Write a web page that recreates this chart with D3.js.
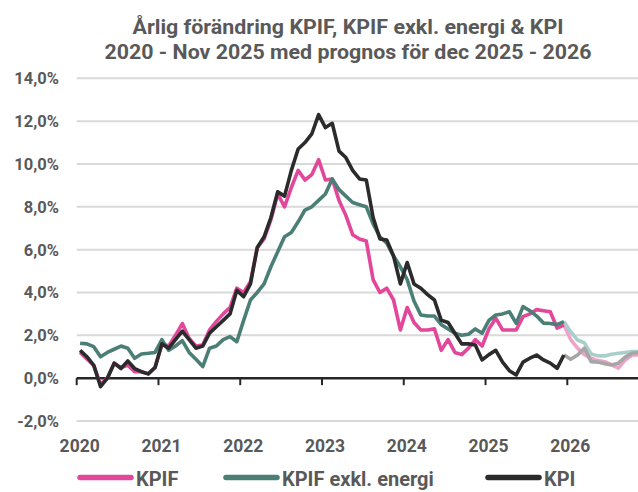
<!DOCTYPE html>
<html>
<head>
<meta charset="utf-8">
<script src="https://cdn.jsdelivr.net/npm/d3@7"></script>
<style>
  html, body { margin: 0; padding: 0; background: #fff; }
  text { font-family: Roboto, "Liberation Sans", sans-serif; font-weight: 700; fill: #595959; }
</style>
</head>
<body>
<div id="chart"></div>
<script>
// utfall jan 2020 - nov 2025
const kpif = [
  1.2, 0.9, 0.6, -0.3, 0.0, 0.7, 0.5, 0.6, 0.3, 0.3, 0.2, 0.5,
  1.6, 1.5, 2.0, 2.55, 1.85, 1.5, 1.55, 2.25, 2.65, 3.0, 3.3, 4.2,
  4.0, 4.5, 6.1, 6.5, 7.4, 8.6, 8.0, 8.9, 9.7, 9.25, 9.5, 10.2,
  9.25, 9.3, 8.3, 7.6, 6.7, 6.5, 6.4, 4.6, 4.0, 4.2, 3.65, 2.25,
  3.3, 2.6, 2.25, 2.25, 2.3, 1.3, 1.8, 1.2, 1.1, 1.4, 1.8, 1.5,
  2.3, 2.8, 2.25, 2.25, 2.25, 2.87, 3.0, 3.2, 3.15, 3.1, 2.34
]
const kpifExEnergi = [
  1.63, 1.6, 1.47, 1.0, 1.2, 1.35, 1.5, 1.4, 0.93, 1.13, 1.16, 1.2,
  1.8, 1.3, 1.5, 1.75, 1.2, 0.88, 0.54, 1.4, 1.5, 1.8, 1.94, 1.7,
  2.7, 3.65, 4.0, 4.4, 5.2, 5.9, 6.6, 6.8, 7.3, 7.85, 8.0, 8.3,
  8.6, 9.3, 8.8, 8.5, 8.2, 8.1, 8.0, 7.2, 6.6, 6.3, 5.7, 5.2,
  4.6, 3.6, 2.95, 2.9, 2.9, 2.5, 2.3, 2.1, 2.0, 2.05, 2.3, 2.1,
  2.7, 2.95, 3.0, 3.1, 2.56, 3.34, 3.15, 2.9, 2.57, 2.55, 2.5
]
const kpi = [
  1.3, 1.0, 0.6, -0.4, 0.0, 0.7, 0.45, 0.8, 0.45, 0.3, 0.2, 0.5,
  1.6, 1.4, 1.8, 2.2, 1.8, 1.4, 1.5, 2.1, 2.4, 2.7, 3.0, 4.1,
  3.8, 4.4, 6.1, 6.6, 7.5, 8.7, 8.5, 9.7, 10.7, 11.0, 11.4, 12.3,
  11.7, 11.9, 10.6, 10.3, 9.7, 9.3, 9.25, 7.5, 6.5, 6.45, 5.7, 4.4,
  5.4, 4.4, 4.2, 3.9, 3.65, 2.7, 2.6, 2.1, 1.6, 1.6, 1.55, 0.85,
  1.1, 1.3, 0.75, 0.35, 0.15, 0.75, 0.93, 1.08, 0.85, 0.7, 0.46
]
// prognos dec 2025 - dec 2026
const kpifPrognos = [2.48, 1.8, 1.4, 1.1, 0.93, 0.82, 0.77, 0.62, 0.47, 0.85, 1.08, 1.08, 1.1]
const kpifExEnergiPrognos = [2.64, 2.17, 1.78, 1.65, 1.13, 1.04, 1.04, 1.12, 1.16, 1.2, 1.24, 1.24, 1.25]
const kpiPrognos = [1.08, 0.88, 1.08, 1.4, 0.77, 0.75, 0.67, 0.62, 0.7, 0.98, 1.16, 1.2, 1.2]

const years = [2020, 2021, 2022, 2023, 2024, 2025, 2026]
const yTicks = [-2, 0, 2, 4, 6, 8, 10, 12, 14]
const legendNames = ["KPIF", "KPIF exkl. energi", "KPI"]

let months = []
years.forEach(function(y){
    for(let m = 1; m <= 12; m++) months.push(y + "-" + m)
})

const width = 638
const height = 492
const left = 76.7
const monthW = 6.814

let svg = d3.select("#chart").append("svg")
    .attr("width", width)
    .attr("height", height)

let x = d3.scaleBand()
    .domain(months)
    .range([left, left + months.length * monthW])
    .padding(0)

let y = d3.scaleLinear()
    .domain([-2, 14])
    .range([421.0, 78.3])

function px(i){ return x(months[i]) + x.bandwidth() / 2 }

// titel
svg.append("text")
    .attr("x", 348).attr("y", 33.5)
    .attr("text-anchor", "middle")
    .attr("textLength", 431).attr("lengthAdjust", "spacingAndGlyphs")
    .style("font-size", "19.5px")
    .text("Årlig förändring KPIF, KPIF exkl. energi & KPI")
svg.append("text")
    .attr("x", 348).attr("y", 58.5)
    .attr("text-anchor", "middle")
    .attr("textLength", 487).attr("lengthAdjust", "spacingAndGlyphs")
    .style("font-size", "19.5px")
    .text("2020 - Nov 2025 med prognos för dec 2025 - 2026")

// stödlinjer
svg.append("g").selectAll("line")
    .data(yTicks.filter(function(d){ return d !== 0 }))
    .enter().append("line")
    .attr("x1", left).attr("x2", width)
    .attr("y1", function(d){ return y(d) })
    .attr("y2", function(d){ return y(d) })
    .attr("stroke", "#d9d9d9")
    .attr("stroke-width", 2)

svg.append("g").selectAll("text")
    .data(yTicks)
    .enter().append("text")
    .attr("x", 59)
    .attr("y", function(d){ return y(d) + 6 })
    .attr("text-anchor", "end")
    .style("font-size", "16.5px")
    .text(function(d){ return d.toFixed(1).replace(".", ",") + "%" })

// x-axel
svg.append("line")
    .attr("x1", left).attr("x2", width)
    .attr("y1", y(0)).attr("y2", y(0))
    .attr("stroke", "#262626")
    .attr("stroke-width", 2.5)

let tickG = svg.append("g").selectAll("g")
    .data(years)
    .enter().append("g")
    .attr("transform", function(d){ return "translate(" + x(d + "-1") + ",0)" })
tickG.append("line")
    .attr("y1", y(0)).attr("y2", y(0) + 7)
    .attr("stroke", "#262626")
    .attr("stroke-width", 2)
tickG.append("text")
    .attr("x", 3)
    .attr("y", 451.5)
    .attr("text-anchor", "middle")
    .style("font-size", "17.5px")
    .text(function(d){ return d })

// serier
let line = d3.line()
    .x(function(d){ return px(d.i) })
    .y(function(d){ return y(d.v) })

const start = kpi.length
let series = [
    {name: "KPIF", utfall: kpif, prognos: kpifPrognos, color: "#e2479b", light: "#efa3ca"},
    {name: "KPIF exkl. energi", utfall: kpifExEnergi, prognos: kpifExEnergiPrognos, color: "#4b7f76", light: "#aacfca"},
    {name: "KPI", utfall: kpi, prognos: kpiPrognos, color: "#2b2b2b", light: "#a6a6a6"}
]

series.forEach(function(s){
    let p = s.prognos.map(function(v, k){ return {i: start + k, v: v} })
    svg.append("path")
        .datum(p)
        .attr("d", line)
        .attr("fill", "none")
        .attr("stroke", s.light)
        .attr("stroke-width", 3.6)
        .attr("stroke-linejoin", "round")
})

series.forEach(function(s){
    let u = s.utfall.map(function(v, i){ return {i: i, v: v} })
    u.push({i: start, v: s.prognos[0]})
    svg.append("path")
        .datum(u)
        .attr("d", line)
        .attr("fill", "none")
        .attr("stroke", s.color)
        .attr("stroke-width", 3.6)
        .attr("stroke-linejoin", "round")
})

// legend
const legendX = [78, 224, 486]
let leg = svg.append("g").selectAll("g")
    .data(series)
    .enter().append("g")
    .attr("transform", function(d, i){ return "translate(" + legendX[i] + ",477.5)" })
leg.append("line")
    .attr("x1", 2).attr("x2", 53)
    .attr("stroke", function(d){ return d.color })
    .attr("stroke-width", 5.5)
    .attr("stroke-linecap", "round")
leg.append("text")
    .attr("x", 58).attr("y", 8)
    .style("font-size", "20px")
    .text(function(d, i){ return legendNames[i] })
</script>
</body>
</html>
